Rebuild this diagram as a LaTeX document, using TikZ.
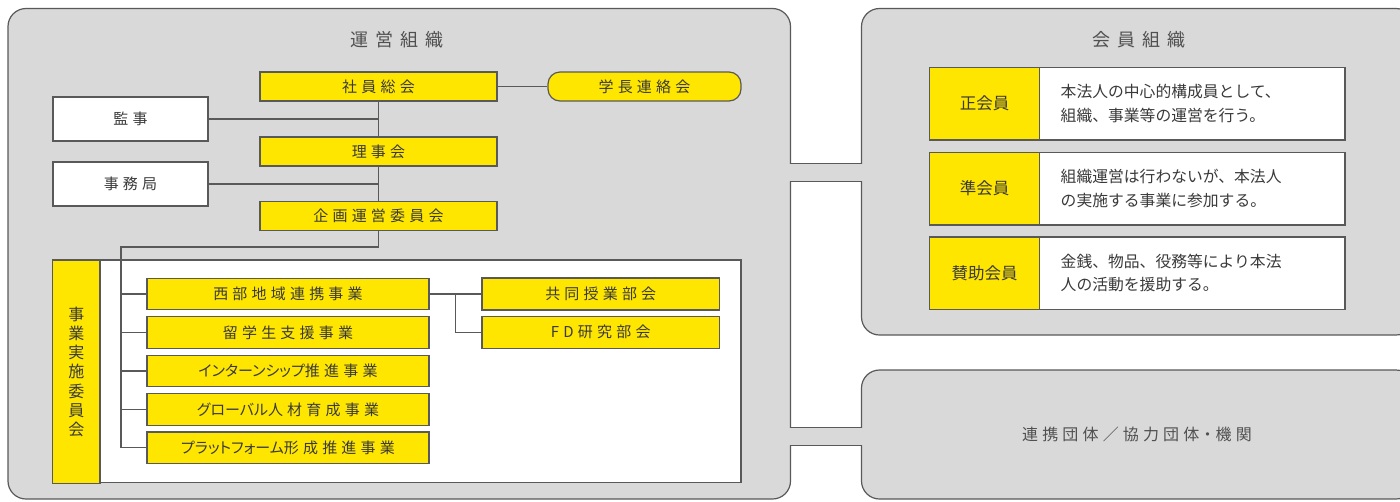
\documentclass[tikz,border=0pt]{standalone}
\usepackage{fontspec}
\setmainfont{Noto Sans CJK JP}
\newfontfamily\jpnode[LetterSpace=28,RawFeature=+palt]{Noto Sans CJK JP}
\newfontfamily\jpkana[RawFeature=+palt]{Noto Sans CJK JP}
\newfontfamily\jptitle[LetterSpace=38]{Noto Sans CJK JP}
\newfontfamily\jpwide[LetterSpace=26,RawFeature=+palt]{Noto Sans CJK JP}
\newfontfamily\jpplain{Noto Sans CJK JP}
\newcommand{\kn}[1]{{\jpkana #1}}
\usetikzlibrary{calc}
\definecolor{bggray}{HTML}{D9D9D9}
\definecolor{edge}{HTML}{595959}
\definecolor{yel}{HTML}{FFE600}
\definecolor{txt}{HTML}{3A3A3A}
\definecolor{ttl}{HTML}{505050}
\tikzset{
  panel/.style={draw=edge, fill=bggray, line width=1.2pt, rounded corners=18pt},
  ybox/.style={draw=edge, fill=yel, line width=1.2pt, inner sep=0pt, text=txt,
    font=\jpnode\fontsize{15}{18}\selectfont},
  wbox/.style={draw=edge, fill=white, line width=1.2pt, inner sep=0pt, text=txt,
    font=\jpnode\fontsize{15}{18}\selectfont},
  conn/.style={draw=edge, line width=1.2pt},
  titletext/.style={text=ttl, inner sep=0pt, font=\jptitle\fontsize{18}{20}\selectfont},
  proj/.style={ybox, minimum width=282pt, minimum height=31.5pt},
  sub/.style={ybox, minimum width=237.5pt, minimum height=32pt},
  mlabel/.style={draw=edge, fill=yel, line width=1.2pt, inner sep=0pt, text=txt,
    minimum width=110pt, minimum height=72.5pt, font=\jpplain\fontsize{16.5}{18}\selectfont},
  mdesc/.style={draw=edge, fill=white, line width=1.2pt, minimum width=305.5pt,
    minimum height=72.5pt},
  desctext/.style={text=txt, inner sep=0pt, align=left, anchor=west,
    font=\jpplain\fontsize{15.8}{23.5}\selectfont}
}
\begin{document}
\begin{tikzpicture}[x=1pt,y=-1pt]
\useasboundingbox (0,0) rectangle (1400,501);
\clip (0,0) rectangle (1400,501);
% panels
\path[panel] (8,8.5) rectangle (790.5,499);
\path[panel] (861.5,8.5) rectangle (1414,335);
\path[panel] (861.5,370) rectangle (1414,499);
% bands joining the panels
\fill[bggray] (789.3,164.2) rectangle (862.7,180.8);
\fill[bggray] (789.3,428.2) rectangle (862.7,444.8);
\draw[conn] (790.5,163.5) -- (861.5,163.5);
\draw[conn] (790.5,181.5) -- (861.5,181.5);
\draw[conn] (790.5,427.5) -- (861.5,427.5);
\draw[conn] (790.5,445.5) -- (861.5,445.5);

% titles
\node[titletext] (t1) at (397,39.5) {運営組織};
\node[titletext] (t2) at (1139,39.5) {会員組織};
\node[text=ttl, inner sep=0pt, font=\jpwide\fontsize{16}{18}\selectfont] (t3) at (1137,434.5) {連携団体／協力団体・機関};

% left organisation
\node[ybox, minimum width=237pt, minimum height=29pt] (shain) at (378.5,86.5) {社員総会};
\node[ybox, rounded corners=12pt, minimum width=193pt, minimum height=29pt] (gaku) at (644.5,86.5) {学長連絡会};
\node[wbox, minimum width=155pt, minimum height=44pt] (kanji) at (130.5,119) {監事};
\node[ybox, minimum width=237pt, minimum height=29pt] (riji) at (378.5,151.5) {理事会};
\node[wbox, minimum width=155pt, minimum height=44pt] (jimu) at (130.5,184) {事務局};
\node[ybox, minimum width=237pt, minimum height=28.5pt] (kikaku) at (378.5,216) {企画運営委員会};

% inner white area
\node[wbox, minimum width=688pt, minimum height=222.7pt] (inner) at (397,371.35) {};
\node[ybox, minimum width=47.3pt, minimum height=222.7pt, align=center,
  font=\jpplain\fontsize{16}{19.2}\selectfont] (jikko) at (76.35,371.8)
  {事\\業\\実\\施\\委\\員\\会};

\node[proj] (p1) at (288,294) {西部地域連携事業};
\node[proj] (p2) at (288,332.5) {留学生支援事業};
\node[proj] (p3) at (288,371) {\kn{インターンシップ}推進事業};
\node[proj] (p4) at (288,409.5) {\kn{グローバル}人材育成事業};
\node[proj] (p5) at (288,447.8) {\kn{プラットフォーム}形成推進事業};
\node[sub] (s1) at (600.75,294) {共同授業部会};
\node[sub] (s2) at (600.75,332.3) {FD研究部会};

% connectors
\draw[conn] (shain.east) -- (gaku.west);
\draw[conn] (shain.south) -- (riji.north);
\draw[conn] (riji.south) -- (kikaku.north);
\draw[conn] (kanji.east) -- (kanji.east -| shain.south);
\draw[conn] (jimu.east) -- (jimu.east -| riji.south);
\coordinate (sp) at (121,247);
\draw[conn] (kikaku.south) |- (sp) -- (sp |- p5.west) -- (p5.west);
\foreach \p in {p1,p2,p3,p4}{\draw[conn] (sp |- \p.west) -- (\p.west);}
\draw[conn] (p1.east) -- (s1.west);
\coordinate (br) at ($(p1.east)!0.5!(s1.west)$);
\draw[conn] (br) |- (s2.west);

% member organisation
\node[mlabel] (m1) at (984.5,103.75) {正会員};
\node[mdesc] (d1) at (1192.25,103.75) {};
\node[mlabel] (m2) at (984.5,188.65) {準会員};
\node[mdesc] (d2) at (1192.25,188.65) {};
\node[mlabel] (m3) at (984.5,273.2) {賛助会員};
\node[mdesc] (d3) at (1192.25,273.2) {};
\node[desctext] (dt1) at (1060.5,103.75) {本法人の中心的構成員として、\\組織、事業等の運営を行う。};
\node[desctext] (dt2) at (1060.5,188.65) {組織運営は行わないが、本法人\\の実施する事業に参加する。};
\node[desctext] (dt3) at (1060.5,273.2) {金銭、物品、役務等により本法\\人の活動を援助する。};
\end{tikzpicture}
\end{document}
